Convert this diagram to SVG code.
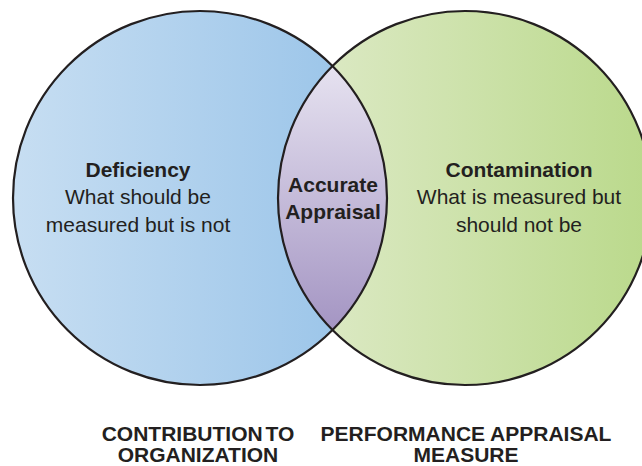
<svg xmlns="http://www.w3.org/2000/svg" width="642" height="466" viewBox="0 0 642 466">
<defs>
<linearGradient id="gBlue" x1="13" y1="0" x2="387" y2="0" gradientUnits="userSpaceOnUse">
<stop offset="0" stop-color="#c7def2"/>
<stop offset="1" stop-color="#96c2e8"/>
</linearGradient>
<linearGradient id="gGreen" x1="278" y1="0" x2="652" y2="0" gradientUnits="userSpaceOnUse">
<stop offset="0" stop-color="#e0ebcb"/>
<stop offset="1" stop-color="#bad98b"/>
</linearGradient>
<linearGradient id="gLens" x1="0" y1="66" x2="0" y2="330" gradientUnits="userSpaceOnUse">
<stop offset="0" stop-color="#e6e2f0"/>
<stop offset="1" stop-color="#a495c3"/>
</linearGradient>
<style>
.outline{fill:none;stroke:#231f20;stroke-width:2.2}
.t{font-family:"Liberation Sans",Arial,sans-serif;fill:#231f20;text-anchor:middle}
.reg{font-size:21px}
.bold{font-size:21px;font-weight:bold}
.cap{font-size:21px;font-weight:bold}
.tight{word-spacing:-3px}
</style>
</defs>
<rect width="642" height="466" fill="#ffffff"/>
<g id="deficiency">
<circle cx="200" cy="198" r="187" fill="url(#gBlue)"/>
<text class="t bold" x="138" y="177">Deficiency</text>
<text class="t reg" x="138" y="204">What should be</text>
<text class="t reg" x="138" y="232">measured but is not</text>
</g>
<g id="contamination">
<circle cx="465" cy="198" r="187" fill="url(#gGreen)"/>
<text class="t bold" x="519" y="177">Contamination</text>
<text class="t reg" x="519" y="204">What is measured but</text>
<text class="t reg" x="519" y="232">should not be</text>
</g>
<g id="accurate-appraisal">
<path d="M332.5,66 A187,187 0 0 1 332.5,330 A187,187 0 0 1 332.5,66 Z" fill="url(#gLens)"/>
<text class="t bold" x="333" y="192">Accurate</text>
<text class="t bold" x="333" y="219">Appraisal</text>
</g>
<g id="outlines">
<circle class="outline" cx="200" cy="198" r="187"/>
<circle class="outline" cx="465" cy="198" r="187"/>
</g>
<g id="label-contribution">
<text class="t cap tight" x="198" y="441">CONTRIBUTION TO</text>
<text class="t cap" x="198" y="462">ORGANIZATION</text>
</g>
<g id="label-measure">
<text class="t cap" x="466" y="441">PERFORMANCE APPRAISAL</text>
<text class="t cap" x="466" y="462">MEASURE</text>
</g>
<g id="connectors"></g>
</svg>
